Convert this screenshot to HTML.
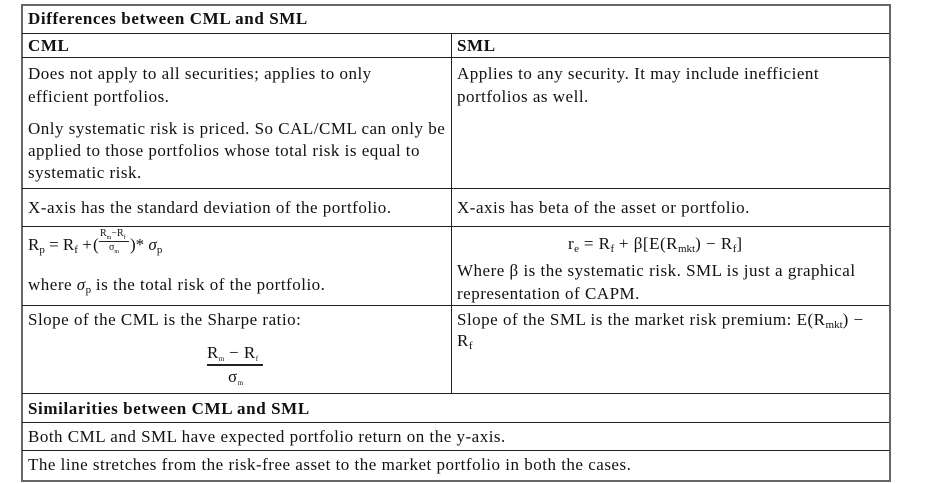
<!DOCTYPE html>
<html><head><meta charset="utf-8"><style>
body{margin:0;background:#fff;width:949px;height:484px;position:relative;overflow:hidden;font-family:"Liberation Serif","DejaVu Serif",serif;font-size:17px;letter-spacing:0.5px;color:#111}
.t{position:absolute;white-space:nowrap;line-height:18px}
.h{position:absolute;height:1px;background:#222}
.v{position:absolute;width:1px;background:#222}
b{font-weight:bold;letter-spacing:0.6px}
sub{font-size:11px;vertical-align:-3px;letter-spacing:0}
</style></head><body>
<div style="position:absolute;left:21px;top:4px;width:866px;height:474px;border:2px solid #666"></div>
<div class="h" style="left:22px;width:867px;top:33px"></div>
<div class="h" style="left:22px;width:867px;top:57px"></div>
<div class="h" style="left:22px;width:867px;top:188px"></div>
<div class="h" style="left:22px;width:867px;top:226px"></div>
<div class="h" style="left:22px;width:867px;top:305px"></div>
<div class="h" style="left:22px;width:867px;top:393px"></div>
<div class="h" style="left:22px;width:867px;top:422px"></div>
<div class="h" style="left:22px;width:867px;top:450px"></div>
<div class="v" style="left:451px;top:33px;height:360px"></div>

<div class="t" style="left:28px;top:10px"><b>Differences between CML and SML</b></div>
<div class="t" style="left:28px;top:37px"><b>CML</b></div>
<div class="t" style="left:457px;top:37px"><b>SML</b></div>

<div class="t" style="left:28px;top:65px">Does not apply to all securities; applies to only</div>
<div class="t" style="left:28px;top:88px">efficient portfolios.</div>
<div class="t" style="left:28px;top:120px">Only systematic risk is priced. So CAL/CML can only be</div>
<div class="t" style="left:28px;top:142px">applied to those portfolios whose total risk is equal to</div>
<div class="t" style="left:28px;top:164px">systematic risk.</div>
<div class="t" style="left:457px;top:65px">Applies to any security. It may include inefficient</div>
<div class="t" style="left:457px;top:88px">portfolios as well.</div>

<div class="t" style="left:28px;top:199px">X-axis has the standard deviation of the portfolio.</div>
<div class="t" style="left:457px;top:199px">X-axis has beta of the asset or portfolio.</div>

<div class="t" style="left:28px;top:236px;letter-spacing:0">R<sub>p</sub> = R<sub>f</sub> +</div>
<div class="t" style="left:93px;top:236px;letter-spacing:0">(</div>
<div class="t" style="left:100px;top:229px;font-size:10px;line-height:10px;letter-spacing:0">R<sub style="font-size:6px">m</sub>−R<sub style="font-size:6px">f</sub></div>
<div class="h" style="left:99px;width:30px;top:241px"></div>
<div class="t" style="left:109px;top:243px;font-size:10px;line-height:10px;letter-spacing:0">σ<sub style="font-size:6px">m</sub></div>
<div class="t" style="left:130px;top:236px;letter-spacing:0">)* <i>σ</i><sub>p</sub></div>
<div class="t" style="left:28px;top:276px">where <i>σ</i><sub>p</sub> is the total risk of the portfolio.</div>

<div class="t" style="left:568px;top:235px">r<sub>e</sub> = R<sub>f</sub> + β[E(R<sub>mkt</sub>) − R<sub>f</sub>]</div>
<div class="t" style="left:457px;top:262px">Where β is the systematic risk. SML is just a graphical</div>
<div class="t" style="left:457px;top:285px">representation of CAPM.</div>

<div class="t" style="left:28px;top:311px">Slope of the CML is the Sharpe ratio:</div>
<div class="t" style="left:207px;top:344px">R<sub style="font-size:7px">m</sub> − R<sub style="font-size:7px">f</sub></div>
<div class="h" style="left:207px;width:56px;top:364px;height:2px"></div>
<div class="t" style="left:228px;top:368px">σ<sub style="font-size:7px">m</sub></div>
<div class="t" style="left:457px;top:311px">Slope of the SML is the market risk premium: E(R<sub>mkt</sub>) −</div>
<div class="t" style="left:457px;top:332px">R<sub>f</sub></div>

<div class="t" style="left:28px;top:400px"><b>Similarities between CML and SML</b></div>
<div class="t" style="left:28px;top:428px">Both CML and SML have expected portfolio return on the y-axis.</div>
<div class="t" style="left:28px;top:456px">The line stretches from the risk-free asset to the market portfolio in both the cases.</div>
</body></html>
